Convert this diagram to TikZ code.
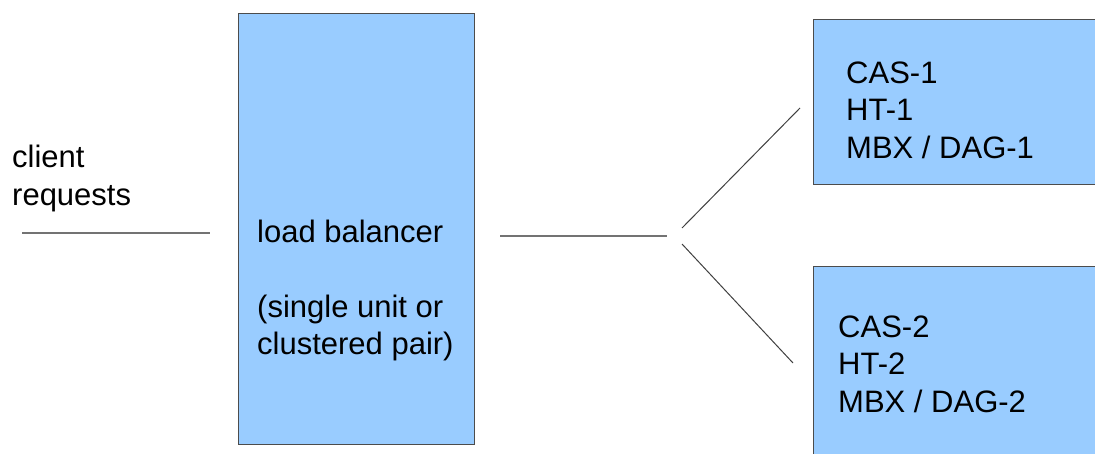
\documentclass[tikz,border=0pt]{standalone}
\usepackage{fontspec}
\setmainfont{Liberation Sans}
\usetikzlibrary{positioning}
\definecolor{boxblue}{HTML}{99CCFF}

\begin{document}
\begin{tikzpicture}[x=1pt, y=-1pt,
    box/.style={draw=black!70, line width=0.9pt, fill=boxblue, anchor=north west, inner sep=0pt},
    txt/.style={anchor=base west, align=left, inner sep=0pt, font=\fontsize{31}{37.5}\selectfont},
    wire/.style={draw=black!55, line width=1.3pt}]
    \useasboundingbox (0,0) rectangle (1095,453);
    % boxes
    \node[box, minimum width=236, minimum height=431] (lb) at (238,13) {};
    \node[box, minimum width=300, minimum height=165] (srv1) at (813,19) {};
    \node[box, minimum width=300, minimum height=200] (srv2) at (813,266) {};
    % texts (base = last line)
    \node[txt] (client) at (12,205) {client\\requests};
    \node[txt] (lbtext) at (257,354.5) {load balancer\\[37.5pt](single unit or\\clustered pair)};
    \node[txt] (srv1text) at (846,158) {CAS-1\\HT-1\\MBX / DAG-1};
    \node[txt] (srv2text) at (838,412) {CAS-2\\HT-2\\MBX / DAG-2};
    % wires
    \coordinate (in-a) at (22,233);
    \coordinate (in-b) at (210,233);
    \coordinate (out-a) at (500,236);
    \coordinate (out-b) at (667,236);
    \coordinate (fork-up) at (682,228);
    \coordinate (fork-dn) at (682,244);
    \coordinate (to-srv1) at (800,108);
    \coordinate (to-srv2) at (793,363);
    \draw[wire] (in-a) -- (in-b);
    \draw[wire] (out-a) -- (out-b);
    \draw[wire, draw=black!75, line width=1pt] (fork-up) -- (to-srv1);
    \draw[wire, draw=black!75, line width=1pt] (fork-dn) -- (to-srv2);
\end{tikzpicture}
\end{document}
